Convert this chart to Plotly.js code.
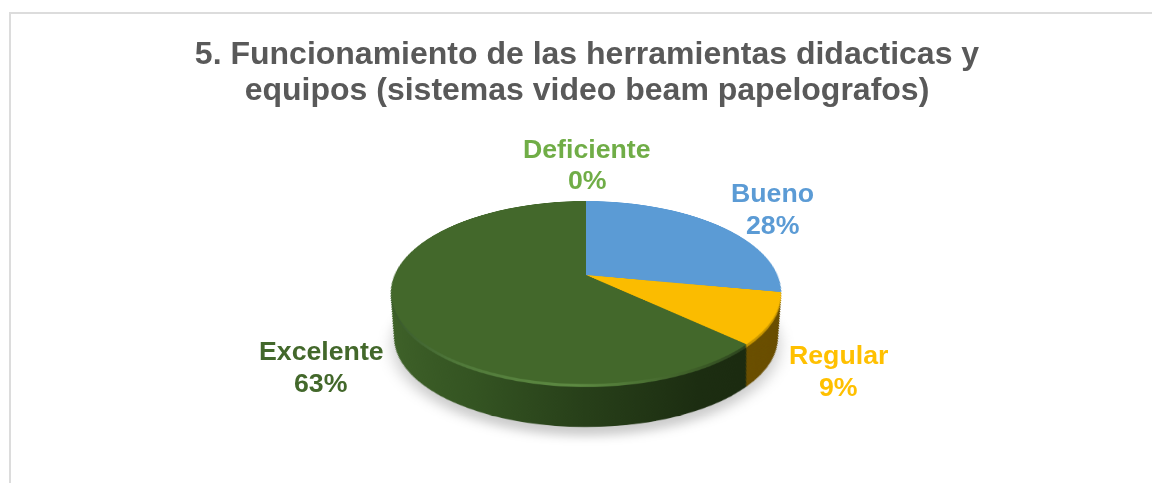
<!DOCTYPE html>
<html>
<head>
<meta charset="utf-8">
<script src="https://cdn.plot.ly/plotly-3.0.1.min.js"></script>
<style>
html,body{margin:0;padding:0;background:#fff;overflow:hidden;width:1152px;height:483px}
#frame{position:absolute;left:9px;top:12px;right:0;bottom:-5px;border-left:2px solid #dcdcdc;border-top:2px solid #dcdcdc}
#chart{position:absolute;left:0;top:0;width:1152px;height:483px}
</style>
</head>
<body>
<div id="frame"></div>
<div id="chart"></div>
<script>
// ---- data ----
const categories = ["Bueno", "Regular", "Excelente", "Deficiente"];
const values = [28, 9, 63, 0];
const titleLines = ["5. Funcionamiento de las herramientas didacticas y", "equipos (sistemas video beam papelografos)"];

// ---- styles ----
const topColors = ["#5B9BD5", "#FBBC00", "#43682B", "#70AD47"];
const wallColors = ["#2f5070", "#6b5000", "#2a431c", "#3a5a25"];
const rimColors = ["#4a7fae", "#c99700", "#54803a", "#5a8a3a"];
const labelColors = ["#5B9BD5", "#FFC000", "#43682B", "#70AD47"];
const labelPos = {
  Bueno: [772.5, 193, 225], Regular: [838, 355, 387],
  Excelente: [321, 351, 383], Deficiente: [587, 149, 180]
};
const titleBaselines = [63.5, 99.5];

// ---- geometry of the tilted disc (screen pixels) ----
const W = 1152, H = 483, CX = 586, CY = 275, R = 191.4;
const TILT = 62.6, DIST = 888;
const c = Math.cos(TILT * Math.PI / 180), s = Math.sin(TILT * Math.PI / 180);
const TOP = {cy: 17.5, rx: 195, ry: 91.5};
const BOTTOM = {cy: 63, rx: 191.5, ry: 89};
const WALL_STEPS = 84;
const WALL_TWIST = -2.2;

function toPlane(e) {
  const inv = y => y / (c + s * y / DIST);
  const y1 = inv(e.cy + e.ry), y2 = inv(e.cy - e.ry);
  const Yc = (y1 + y2) / 2, b = (y1 - y2) / 2;
  const D0 = 1 - s * Yc / DIST, q = (s * b / DIST) / D0;
  const a = e.rx * D0 * Math.sqrt(1 - q * q);
  return `translate(${CX},${CY + Yc}) scale(${a / R},${b / R}) translate(${-CX},${-CY})`;
}

const baseTrace = (colors, rotation) => ({
  type: "pie", labels: categories, values: values, sort: false,
  direction: "clockwise", rotation: rotation || 0, textinfo: "none", hoverinfo: "skip",
  showlegend: false,
  domain: {x: [(CX - R) / W, (CX + R) / W], y: [1 - (CY + R) / H, 1 - (CY - R) / H]},
  marker: {colors: colors, line: {width: 0}}
});

const traces = [], plans = [];
// soft shadow
traces.push(baseTrace(categories.map(() => "rgba(0,0,0,0.20)")));
plans.push({kind: "shadow", e: {cy: 70, rx: 193, ry: 91}});
// side wall, far layer first
for (let i = WALL_STEPS; i >= 8; i--) {
  const t = i / WALL_STEPS;
  traces.push(baseTrace(wallColors, WALL_TWIST * t));
  plans.push({kind: "wall", e: {
    cy: TOP.cy + (BOTTOM.cy - TOP.cy) * t,
    rx: TOP.rx + (BOTTOM.rx - TOP.rx) * t,
    ry: TOP.ry + (BOTTOM.ry - TOP.ry) * t
  }});
}
// bevel
for (let i = 3; i >= 1; i--) {
  traces.push(baseTrace(rimColors));
  plans.push({kind: "rim", e: {cy: TOP.cy + i, rx: TOP.rx, ry: TOP.ry}});
}
// top face
traces.push(baseTrace(topColors));
plans.push({kind: "top", e: TOP});

const annotations = [];
categories.forEach((name, i) => {
  const p = labelPos[name];
  const font = {family: "Liberation Sans, Arial, sans-serif", size: 26.7, color: labelColors[i]};
  const mk = (text, y) => ({text: `<b>${text}</b>`, x: p[0] / W, y: 1 - y / H, xref: "paper", yref: "paper",
    xanchor: "center", yanchor: "middle", showarrow: false, font: font});
  annotations.push(mk(name, p[1]), mk(values[i] + "%", p[2]));
});

const layout = {
  width: W, height: H, margin: {l: 0, r: 0, t: 0, b: 0},
  paper_bgcolor: "rgba(0,0,0,0)", plot_bgcolor: "rgba(0,0,0,0)",
  title: {
    text: "<b>" + titleLines.join("<br>") + "</b>",
    x: 587 / W, xanchor: "center", y: 1 - 72 / H, yanchor: "middle",
    font: {family: "Liberation Sans, Arial, sans-serif", size: 32, color: "#595959"}
  },
  annotations: annotations
};

Plotly.newPlot("chart", traces, layout, {staticPlot: true, displayModeBar: false}).then(gd => {
  const paper = gd.querySelectorAll("svg.main-svg")[0];
  paper.style.overflow = "visible";
  paper.style.transformOrigin = `${CX}px ${CY}px`;
  paper.style.transform = `perspective(${DIST}px) rotateX(${TILT}deg)`;

  // line spacing of the two-line title
  const titleText = gd.querySelector(".gtitle");
  if (titleText) {
    titleText.removeAttribute("dy");
    titleText.removeAttribute("transform");
    titleText.querySelectorAll("tspan.line").forEach((ln, i) => {
      ln.removeAttribute("dy");
      ln.setAttribute("y", titleBaselines[i]);
    });
  }

  const NS = "http://www.w3.org/2000/svg";
  const defs = document.createElementNS(NS, "defs");
  const grad = (id, stops) => {
    const g = document.createElementNS(NS, "linearGradient");
    g.setAttribute("id", id);
    g.setAttribute("gradientUnits", "userSpaceOnUse");
    g.setAttribute("x1", CX - R); g.setAttribute("x2", CX + R);
    g.setAttribute("y1", 0); g.setAttribute("y2", 0);
    stops.forEach(([o, col]) => {
      const st = document.createElementNS(NS, "stop");
      st.setAttribute("offset", o); st.setAttribute("stop-color", col);
      g.appendChild(st);
    });
    defs.appendChild(g);
  };
  grad("wallGreen", [[0, "#3f6229"], [0.25, "#345422"], [0.5, "#273f19"], [0.75, "#1c2d11"], [1, "#1a280f"]]);
  grad("rimGreen", [[0, "#35532a"], [0.22, "#50793a"], [0.48, "#5d8a42"], [0.72, "#3f6029"], [0.92, "#26391a"], [1, "#26391a"]]);
  paper.appendChild(defs);

  const groups = paper.querySelectorAll(".pielayer .trace");
  groups.forEach((g, i) => {
    const plan = plans[i];
    g.setAttribute("transform", toPlane(plan.e));
    if (plan.kind === "shadow") g.style.filter = "blur(7px)";
    const id = plan.kind === "wall" ? "wallGreen" : plan.kind === "rim" ? "rimGreen" : null;
    if (id) {
      const greenIdx = categories.indexOf("Excelente");
      g.querySelectorAll(".slice").forEach(sl => {
        const d = sl.__data__;
        const idx = d && d.i !== undefined ? d.i : (d && d.pts ? d.pts[0] : -1);
        if (idx === greenIdx) sl.querySelector("path").style.fill = `url(#${id})`;
      });
    }
  });
});
</script>
</body>
</html>
